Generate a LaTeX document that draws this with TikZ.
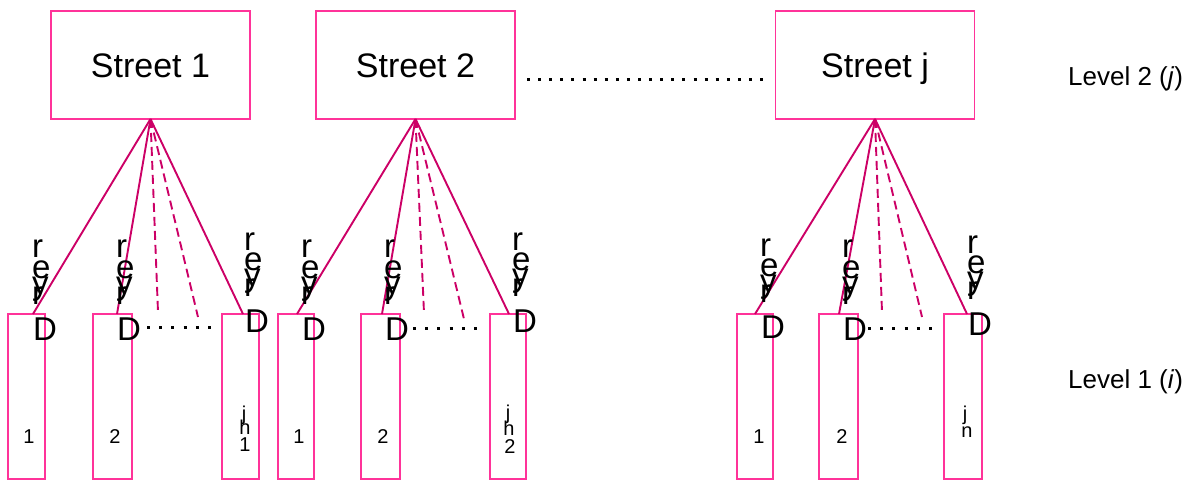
\documentclass[tikz,border=0pt]{standalone}
\usepackage{fontspec}
\setmainfont{Liberation Sans}
\definecolor{boxpink}{RGB}{255,51,153}
\definecolor{linemag}{RGB}{204,0,102}
\newcommand\dryer[3]{%
  \node[dl] (#1D) at (#2,#3) {D};
  \node[dl] (#1r) at ({#2-1},{#3-36}) {r};
  \node[dl] (#1y) at ({#2-1},{#3-46}) {y};
  \node[dl] (#1e) at ({#2-1},{#3-62}) {e};
  \node[dl] (#1t) at ({#2-1},{#3-82}) {r};
}
\newcommand\lbox[3]{%
  \node[lboxst, minimum width={#3-#2}] (#1) at ({(#2+#3)/2},396.5) {};
}
\begin{document}
\begin{tikzpicture}[x=1pt,y=-1pt,
  streetbox/.style={draw=boxpink, line width=1.5pt, minimum width=199pt, minimum height=108pt,
    inner sep=0pt, outer sep=0pt, text height=25pt, text depth=0pt, font=\fontsize{34}{40}\selectfont},
  lboxst/.style={draw=boxpink, line width=1.4pt, minimum height=165pt, inner sep=0pt, outer sep=0pt},
  dl/.style={anchor=base west, inner sep=0pt, font=\fontsize{33}{36}\selectfont},
  nl/.style={anchor=base, inner sep=0pt, font=\fontsize{20}{22}\selectfont},
  lvl/.style={anchor=base west, inner sep=0pt, font=\fontsize{26}{28}\selectfont},
  conn/.style={draw=linemag, line width=1.9pt},
  dconn/.style={draw=linemag, line width=1.9pt, dash pattern=on 9pt off 5pt},
  dotrow/.style={draw=black, line width=3pt, dash pattern=on 3pt off 9.2pt},
  bigdots/.style={draw=black, line width=3pt, dash pattern=on 3pt off 8.1pt}
]
\useasboundingbox (0,0) rectangle (1191,481);

% Level 2 boxes
\node[streetbox] (s1) at (150.5,65) {Street 1};
\node[streetbox] (s2) at (415.5,65) {Street 2};
\node[streetbox] (sj) at (875,65) {Street j};

% dotted row between Street 2 and Street j
\coordinate (bd1) at (527,80);
\coordinate (bd2) at (765,80);
\draw[bigdots] (bd1) -- (bd2);

% Level labels
\node[lvl] (lv2) at (1068,86) {Level 2 (\textit{j})};
\node[lvl] (lv1) at (1068,388) {Level 1 (\textit{i})};

% Level 1 boxes
\lbox{a1}{8}{45}
\lbox{a2}{93}{132}
\lbox{a3}{222}{259}
\lbox{b1}{278}{314}
\lbox{b2}{361}{400}
\lbox{b3}{490}{526}
\lbox{c1}{737}{773}
\lbox{c2}{819}{858}
\lbox{c3}{944}{982}

% connector end points
\coordinate (ea1) at (33,314);
\coordinate (ea2) at (117,314);
\coordinate (ea3) at (243,314);
\coordinate (eb1) at (297,314);
\coordinate (eb2) at (382,314);
\coordinate (eb3) at (509,314);
\coordinate (ec1) at (755,314);
\coordinate (ec2) at (839,314);
\coordinate (ec3) at (967,314);
\coordinate (da1) at (158,312);
\coordinate (da2) at (198,317);
\coordinate (db1) at (424,313);
\coordinate (db2) at (464,319);
\coordinate (dc1) at (882,312);
\coordinate (dc2) at (922,317);

\draw[conn] (s1.south) -- (ea1);
\draw[conn] (s1.south) -- (ea2);
\draw[conn] (s1.south) -- (ea3);
\draw[dconn] (s1.south) -- (da1);
\draw[dconn] (s1.south) -- (da2);
\draw[conn] (s2.south) -- (eb1);
\draw[conn] (s2.south) -- (eb2);
\draw[conn] (s2.south) -- (eb3);
\draw[dconn] (s2.south) -- (db1);
\draw[dconn] (s2.south) -- (db2);
\draw[conn] (sj.south) -- (ec1);
\draw[conn] (sj.south) -- (ec2);
\draw[conn] (sj.south) -- (ec3);
\draw[dconn] (sj.south) -- (dc1);
\draw[dconn] (sj.south) -- (dc2);

% small dotted rows
\coordinate (ra1) at (147,327);
\coordinate (ra2) at (211,327);
\coordinate (rb1) at (413,328);
\coordinate (rb2) at (477,328);
\coordinate (rc1) at (868,328);
\coordinate (rc2) at (932,328);
\draw[dotrow] (ra1) -- (ra2);
\draw[dotrow] (rb1) -- (rb2);
\draw[dotrow] (rc1) -- (rc2);

% Dryer labels
\dryer{ya1}{33}{340}
\dryer{ya2}{117}{340}
\dryer{ya3}{245}{332}
\dryer{yb1}{302}{340}
\dryer{yb2}{385}{340}
\dryer{yb3}{513}{332}
\dryer{yc1}{761}{338}
\dryer{yc2}{843}{340}
\dryer{yc3}{968}{335}

% box numbers
\node[nl] (na1) at (29,443) {1};
\node[nl] (na2) at (115,443) {2};
\node[nl] (na3j) at (244,420) {j};
\node[nl] (na3h) at (245,434) {h};
\node[nl] (na3n) at (245,451) {1};
\node[nl] (nb1) at (299,443) {1};
\node[nl] (nb2) at (383,443) {2};
\node[nl] (nb3j) at (508,419) {j};
\node[nl] (nb3h) at (509,435) {h};
\node[nl] (nb3n) at (510,453) {2};
\node[nl] (nc1) at (759,443) {1};
\node[nl] (nc2) at (842,443) {2};
\node[nl] (nc3j) at (965,420) {j};
\node[nl] (nc3h) at (967,437) {n};
\end{tikzpicture}
\end{document}
